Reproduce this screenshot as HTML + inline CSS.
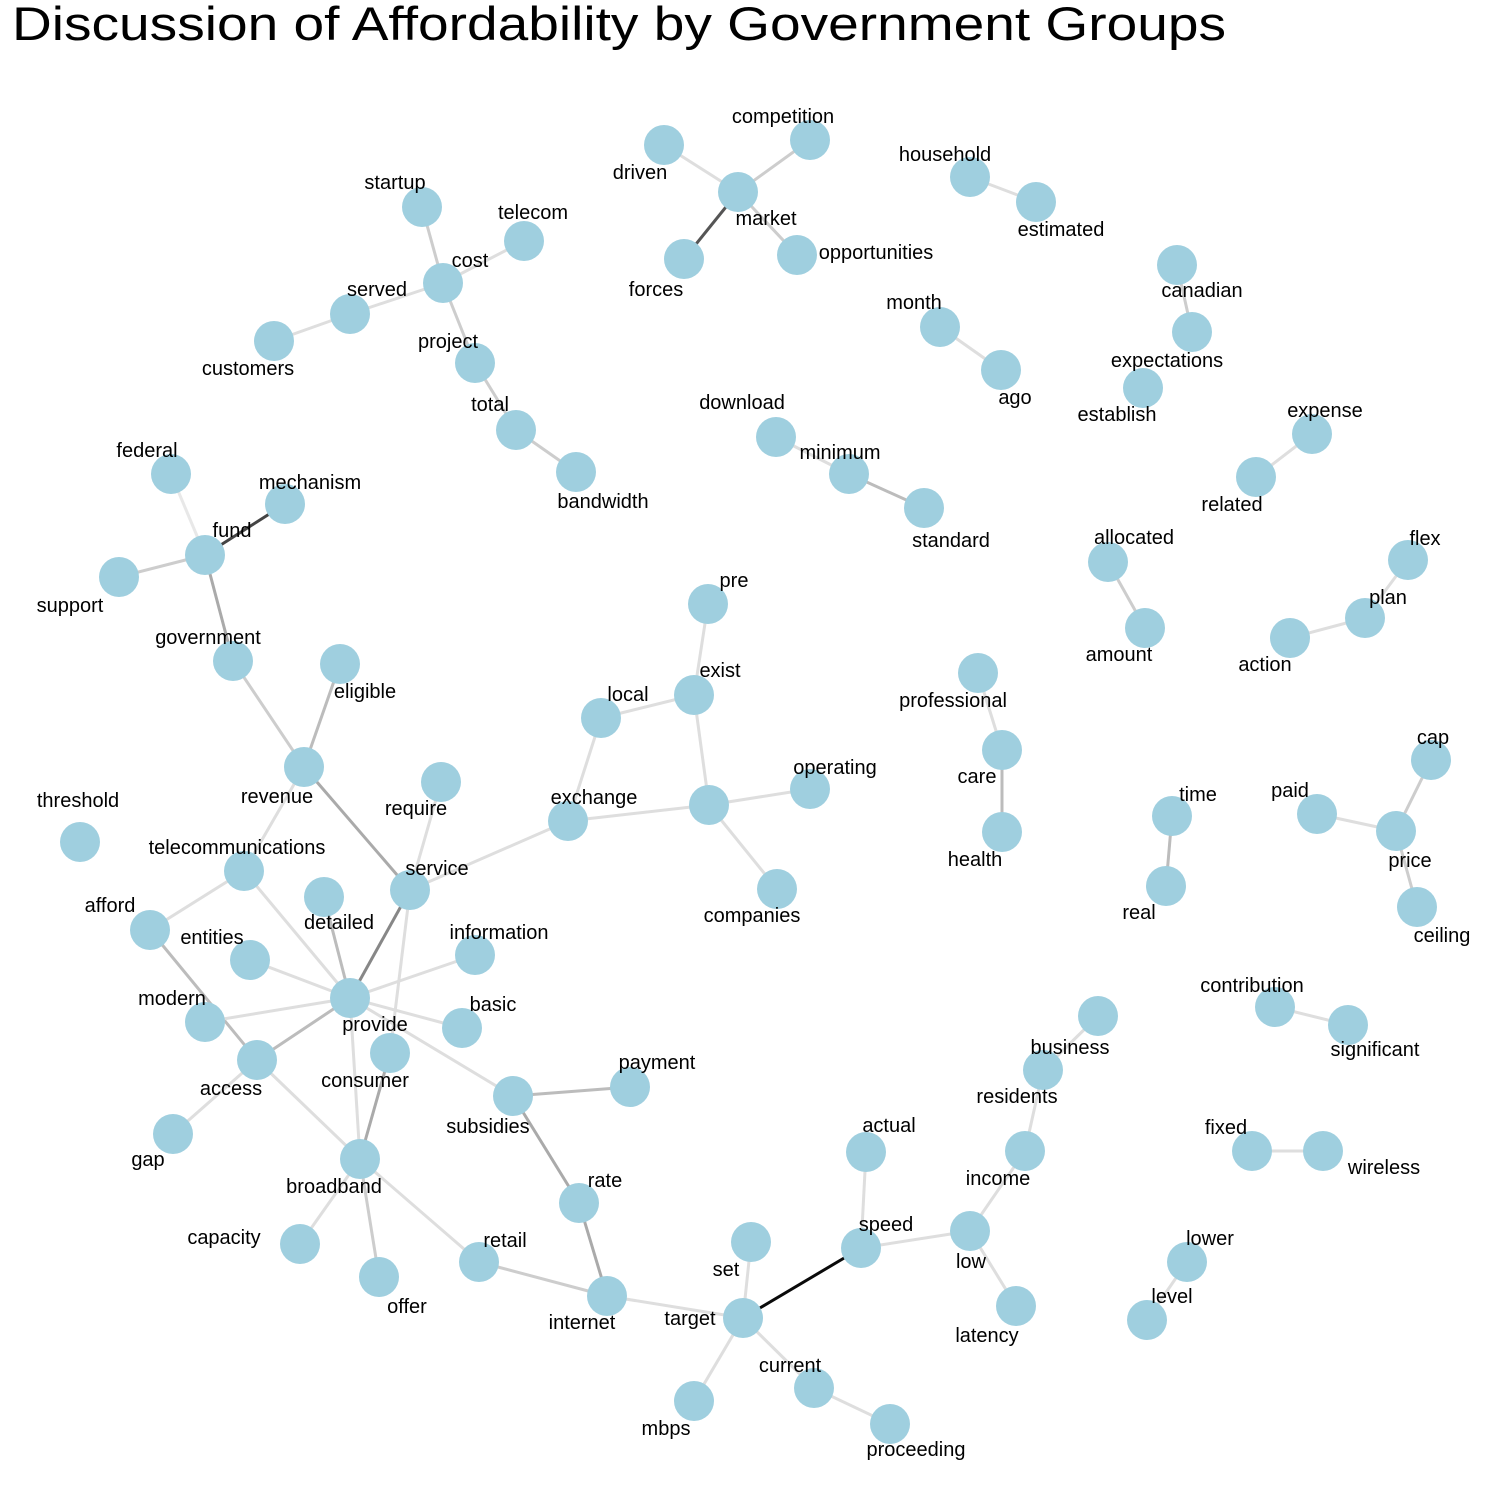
<!DOCTYPE html>
<html><head><meta charset="utf-8"><style>
html,body{margin:0;padding:0;background:#fff;}
svg{display:block;font-family:"Liberation Sans",Arial,sans-serif;}
</style></head><body>
<svg id="chart" width="1500" height="1500" viewBox="0 0 1500 1500">
<rect width="1500" height="1500" fill="#fff"/>
<text x="12" y="40" font-size="47" fill="#000" textLength="1214" lengthAdjust="spacingAndGlyphs">Discussion of Affordability by Government Groups</text>
<g id="edges"></g>
<g id="nodes"></g>
<g id="labels"></g>
</svg>
<script>
const nodeNames=["driven","competition","market","forces","opportunities","household","estimated","startup","telecom","cost","served","customers","project","total","bandwidth","canadian","expectations","establish","month","ago","download","minimum","standard","expense","related","federal","mechanism","fund","support","allocated","amount","flex","plan","action","pre","government","eligible","exist","local","professional","care","health","revenue","require","exchange","hub","operating","companies","threshold","telecommunications","service","afford","detailed","entities","information","modern","provide","basic","consumer","access","payment","subsidies","gap","broadband","rate","capacity","retail","offer","internet","set","target","speed","actual","low","latency","income","residents","business","contribution","significant","fixed","wireless","lower","level","mbps","current","proceeding","time","real","paid","cap","price","ceiling"];
const nodeX=[664,810,738,684,797,970,1036,422,524,443,350,274,475,516,576,1177,1192,1143,940,1001,776,849,924,1312,1256,171,285,205,119,1108,1145,1408,1365,1290,708,233,340,694,601,978,1002,1002,304,441,568,709,810,777,80,244,410,150,324,250,475,205,350,462,390,257,630,513,173,360,579,300,479,379,607,751,743,861,866,970,1016,1025,1043,1098,1275,1348,1252,1323,1187,1147,694,814,890,1172,1166,1317,1431,1396,1417];
const nodeY=[145,140,192,259,255,177,202,207,241,283,314,341,363,430,472,265,332,388,327,370,437,474,508,434,477,474,504,555,577,562,628,560,618,638,604,661,664,695,718,673,750,832,767,782,821,805,789,889,842,871,890,930,897,960,955,1022,998,1028,1053,1060,1087,1096,1134,1159,1203,1244,1262,1277,1296,1242,1318,1248,1152,1231,1306,1151,1070,1016,1007,1025,1151,1151,1262,1320,1401,1388,1424,816,886,814,760,831,907];
const labelDX=[-24,-27,28,-28,79,-25,25,-27,9,27,27,-26,-27,-26,27,25,-25,-26,-26,14,-34,-9,27,13,-24,-24,25,27,-49,26,-26,17,23,-25,26,-25,25,26,27,-25,-25,-27,-27,-25,26,0,25,-25,-2,-7,27,-40,15,-38,24,-33,25,31,-25,-26,27,-25,-25,-26,26,-76,26,28,-25,-25,-53,25,23,1,-29,-27,-26,-28,-23,27,-26,61,23,25,-28,-24,26,26,-27,-27,2,14,25];
const labelDY=[27,-24,26,30,-3,-23,27,-25,-29,-23,-25,27,-22,-26,29,25,28,26,-25,27,-35,-22,32,-24,27,-24,-22,-25,28,-25,26,-22,-21,26,-24,-24,27,-25,-24,27,26,27,29,26,-24,0,-22,26,-42,-24,-22,-25,25,-23,-23,-24,26,-24,27,28,-25,30,25,27,-23,-7,-22,29,26,27,0,-24,-27,30,29,27,26,31,-22,24,-24,16,-24,-24,27,-23,25,-22,26,-24,-23,29,28];
const edgeFrom=["driven","competition","forces","opportunities","household","startup","telecom","cost","served","cost","project","total","canadian","month","download","minimum","expense","federal","mechanism","support","fund","allocated","flex","plan","pre","exist","exist","local","exchange","hub","hub","professional","care","government","eligible","revenue","revenue","require","service","service","consumer","telecommunications","telecommunications","afford","detailed","entities","information","modern","basic","provide","provide","provide","access","access","subsidies","subsidies","rate","broadband","broadband","broadband","retail","internet","target","target","target","target","current","speed","speed","low","low","income","residents","contribution","fixed","lower","time","paid","cap","price","exchange"];
const edgeTo=["market","market","market","market","estimated","cost","cost","served","customers","project","total","bandwidth","expectations","ago","minimum","standard","related","fund","fund","fund","government","amount","plan","action","exist","local","hub","exchange","hub","operating","companies","care","health","revenue","revenue","service","telecommunications","service","provide","consumer","broadband","afford","provide","access","provide","provide","provide","provide","provide","access","broadband","subsidies","gap","broadband","payment","rate","internet","capacity","offer","retail","internet","target","set","speed","mbps","current","proceeding","actual","low","latency","income","residents","business","significant","wireless","level","real","price","price","ceiling","service"];
const edgeWeight=[2,3,8,3,2,3,2,2,2,3,3,3,3,2,2,4,2,1,9,3,5,3,2,2,2,2,2,2,2,2,2,2,4,3,4,5,2,2,6,2,5,2,2,4,4,2,2,2,2,4,2,2,2,2,4,5,5,2,3,2,3,2,2,10,2,2,2,2,2,2,2,2,2,2,2,2,4,2,3,3,2];
const grayLevels={1:232,2:222,3:205,4:188,5:170,6:135,8:85,9:68,10:10};
function gray(w){const v=grayLevels[w];return `rgb(${v},${v},${v})`;}
const NS="http://www.w3.org/2000/svg";
const idx={};nodeNames.forEach((n,i)=>idx[n]=i);
const eg=document.getElementById('edges'),ng=document.getElementById('nodes'),lg=document.getElementById('labels');
edgeFrom.forEach((f,i)=>{const a=idx[f],b=idx[edgeTo[i]];
 const l=document.createElementNS(NS,'line');
 l.setAttribute('x1',nodeX[a]);l.setAttribute('y1',nodeY[a]);l.setAttribute('x2',nodeX[b]);l.setAttribute('y2',nodeY[b]);
 l.setAttribute('stroke',gray(edgeWeight[i]));l.setAttribute('stroke-width',3);
 
 
 eg.appendChild(l);});
nodeNames.forEach((n,i)=>{
 const c=document.createElementNS(NS,'circle');
 c.setAttribute('cx',nodeX[i]);c.setAttribute('cy',nodeY[i]);c.setAttribute('r',20);c.setAttribute('fill','#9fcfdf');
 
 
 ng.appendChild(c);
 if(n==='hub')return;
 const t=document.createElementNS(NS,'text');
 t.setAttribute('x',nodeX[i]+labelDX[i]);t.setAttribute('y',nodeY[i]+labelDY[i]+7);
 t.setAttribute('text-anchor','middle');t.setAttribute('font-size','20');t.setAttribute('fill','#000');
 t.textContent=n;
 
 
 lg.appendChild(t);});
</script>
</body></html>
